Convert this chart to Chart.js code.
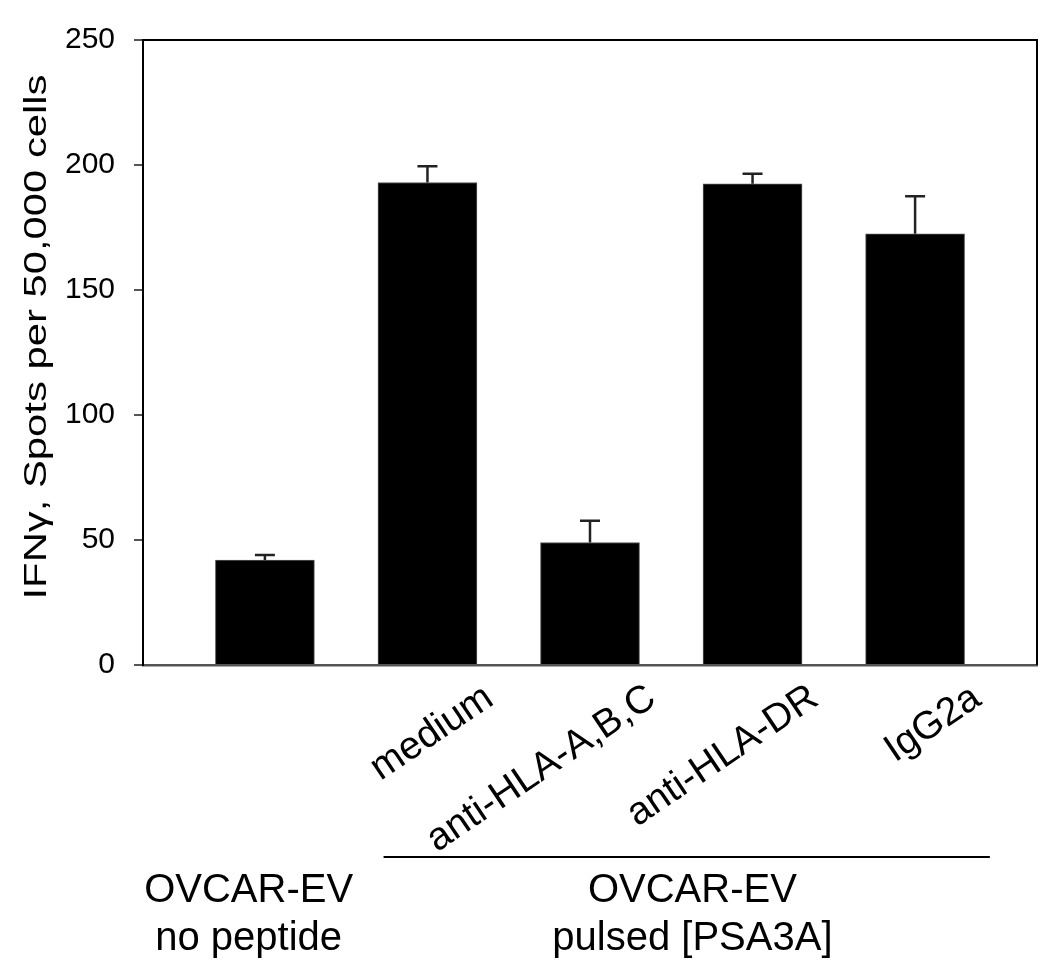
<!DOCTYPE html>
<html>
<head>
<meta charset="utf-8">
<script src="https://cdn.jsdelivr.net/npm/chart.js@4/dist/chart.umd.min.js"></script>
<style>
  body { margin: 0; background: #fff; }
  canvas { display: block; }
</style>
</head>
<body>
<canvas id="ifn-chart" width="1050" height="975"></canvas>
<script>
// values
const groups = [ '', 'medium', 'anti-HLA-A,B,C', 'anti-HLA-DR', 'IgG2a' ];
const spots = [ 42, 193, 49, 192.5, 172.5 ];
const spotsErr = [ 2, 6.5, 8.7, 4, 15 ];
const yTicks = [ 0, 50, 100, 150, 200, 250 ];
const yTitle = 'IFN\u03b3, Spots per 50,000 cells';

const FONT = '"Liberation Sans", Arial, sans-serif';

const figureExtras = {
	id: 'figureExtras',
	afterDatasetsDraw: ( chart ) => {
		const ctx = chart.ctx;
		const x = chart.scales.x;
		const y = chart.scales.y;
		ctx.save();
		ctx.strokeStyle = '#222';
		ctx.lineWidth = 2.5;
		spots.forEach( ( v, i ) => {
			const px = x.getPixelForValue( i );
			const top = y.getPixelForValue( v );
			const hi = y.getPixelForValue( v + spotsErr[ i ] );
			ctx.beginPath();
			ctx.moveTo( px, top );
			ctx.lineTo( px, hi );
			ctx.moveTo( px - 10, hi );
			ctx.lineTo( px + 10, hi );
			ctx.stroke();
		} );
		ctx.restore();
	},
	afterDraw: ( chart ) => {
		const ctx = chart.ctx;
		const area = chart.chartArea;
		const x = chart.scales.x;
		ctx.save();

		// top and right frame
		ctx.strokeStyle = '#000';
		ctx.lineWidth = 2;
		ctx.beginPath();
		ctx.moveTo( area.left, area.top );
		ctx.lineTo( area.right, area.top );
		ctx.lineTo( area.right, area.bottom );
		ctx.stroke();

		// y axis title, stretched along its length like the original
		ctx.font = '32px ' + FONT;
		ctx.fillStyle = '#000';
		ctx.textAlign = 'center';
		ctx.textBaseline = 'alphabetic';
		const w = ctx.measureText( yTitle ).width;
		ctx.save();
		ctx.translate( 46, 337 );
		ctx.rotate( -Math.PI / 2 );
		ctx.scale( 525 / w, 1 );
		ctx.fillText( yTitle, 0, 0 );
		ctx.restore();

		// group labels under the axis
		ctx.font = '40px ' + FONT;
		const leftX = x.getPixelForValue( -0.1 );
		ctx.fillText( 'OVCAR-EV', leftX, 902 );
		ctx.fillText( 'no peptide', leftX, 950 );

		const rightX = x.getPixelForValue( 2.63 );
		ctx.fillText( 'OVCAR-EV', rightX, 902 );
		ctx.fillText( 'pulsed [PSA3A]', rightX, 950 );

		ctx.lineWidth = 2;
		ctx.beginPath();
		ctx.moveTo( x.getPixelForValue( 0.73 ), 857 );
		ctx.lineTo( x.getPixelForValue( 4.46 ), 857 );
		ctx.stroke();

		ctx.restore();
	}
};

const ctx = document.getElementById( 'ifn-chart' ).getContext( '2d' );
new Chart( ctx, {
	type: 'bar',
	data: {
		datasets: [ {
			data: spots.map( ( v, i ) => ( { x: i, y: v } ) ),
			backgroundColor: '#000',
			borderColor: '#555',
			borderWidth: 1,
			barThickness: 99,
		} ],
	},
	plugins: [ figureExtras ],
	options: {
		responsive: false,
		animation: false,
		layout: { padding: { top: 40, right: 13, left: 0, bottom: 0 } },
		plugins: {
			legend: { display: false },
			tooltip: { enabled: false },
		},
		scales: {
			x: {
				type: 'linear',
				offset: false,
				min: -0.75,
				max: 4.75,
				grid: { display: false },
				border: { display: true, color: '#555', width: 2.5 },
				afterBuildTicks: ( scale ) => {
					scale.ticks = groups.map( ( g, i ) => ( { value: i } ) );
				},
				afterFit: ( scale ) => { scale.height = 310; },
				ticks: {
					autoSkip: false,
					minRotation: 34,
					maxRotation: 34,
					labelOffset: 62,
					padding: 2,
					color: '#000',
					font: { family: FONT, size: 39 },
					callback: ( v ) => groups[ v ] !== undefined ? groups[ v ] : '',
				},
			},
			y: {
				min: 0,
				max: 250,
				afterBuildTicks: ( scale ) => {
					scale.ticks = yTicks.map( ( t ) => ( { value: t } ) );
				},
				afterFit: ( scale ) => { scale.width = 143; },
				grid: {
					drawOnChartArea: false,
					drawTicks: true,
					tickLength: 9,
					color: '#555',
					lineWidth: 2,
				},
				border: { display: true, color: '#000', width: 2 },
				ticks: {
					padding: 19,
					color: '#000',
					font: { family: FONT, size: 30 },
				},
			},
		},
	},
} );
</script>
</body>
</html>
